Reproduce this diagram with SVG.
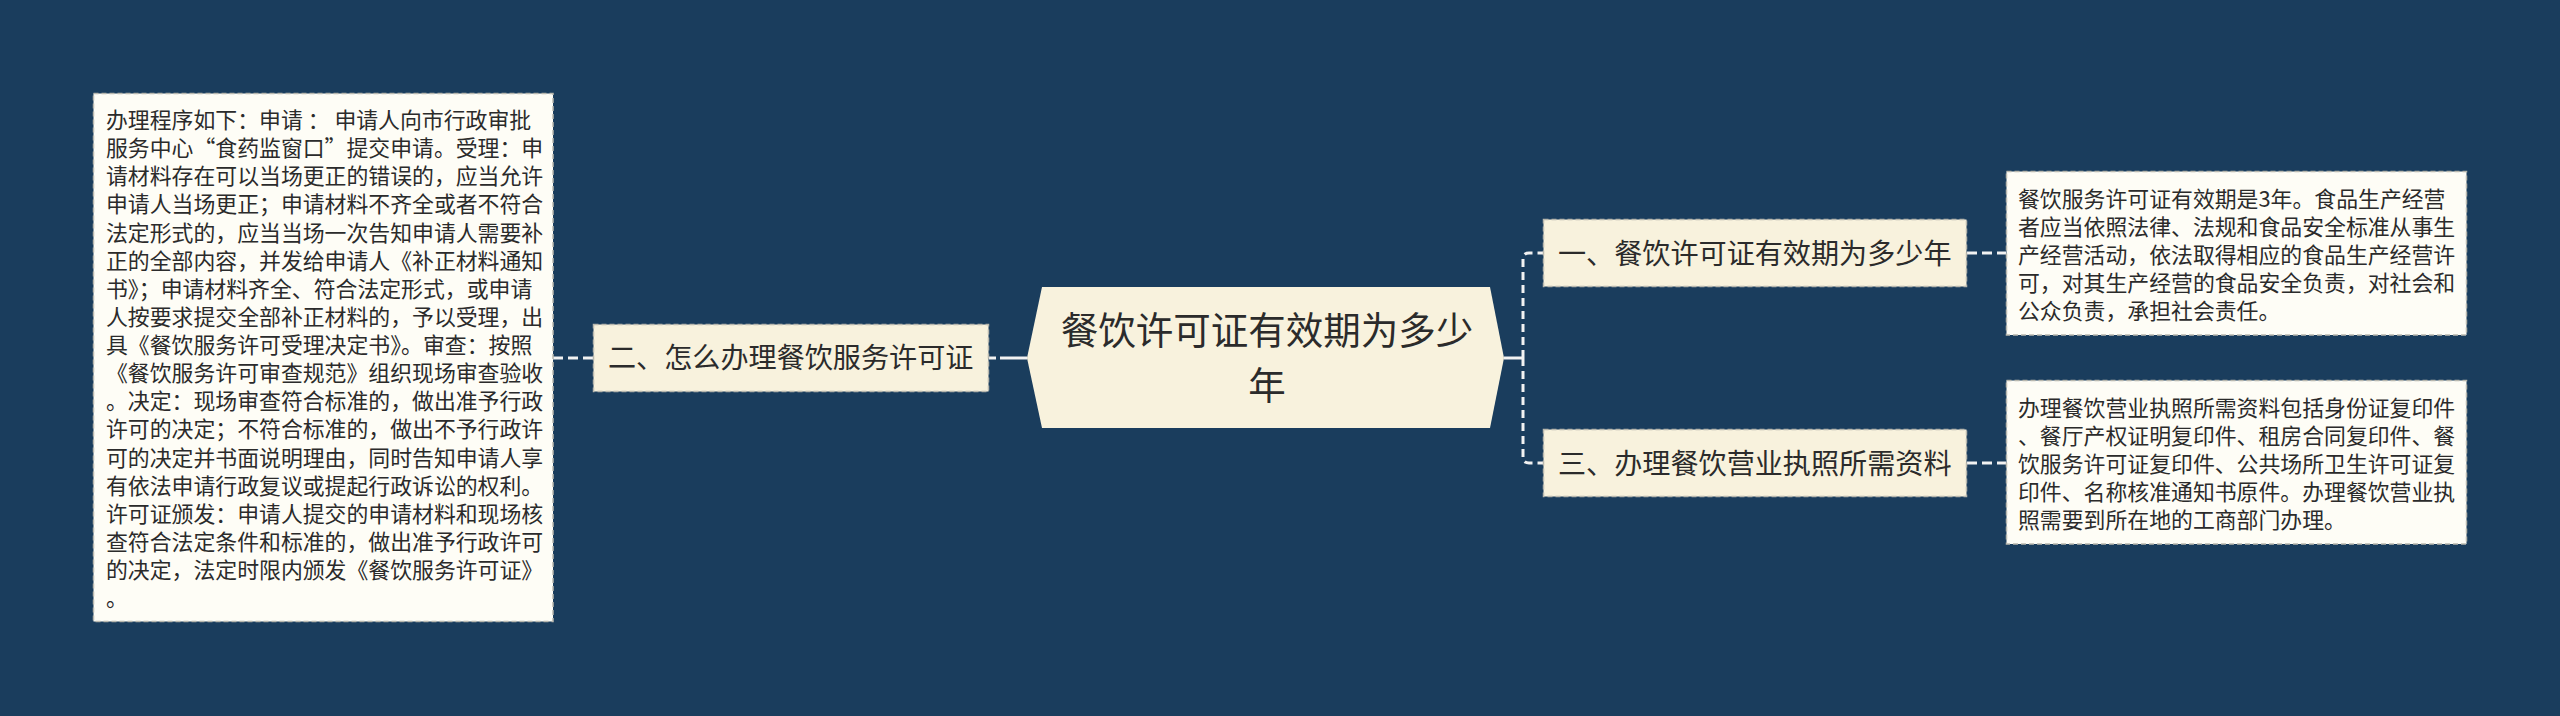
<svg xmlns="http://www.w3.org/2000/svg" width="2560" height="716" viewBox="0 0 2560 716">
<style>
.bg{fill:#1a3d5d}
.topic{fill:#f8f2dd;stroke:#b9b8ae;stroke-width:1.5;stroke-dasharray:5 3}
.detail{fill:#fefdf6;stroke:#b9b8ae;stroke-width:1.5;stroke-dasharray:5 3}
.hex{fill:#f8f2dd}
text{font-family:"Noto Sans CJK SC","Microsoft YaHei",sans-serif;fill:#2b2b2b}
.t14{font-size:21.875px}
.t18{font-size:28.125px}
.t24{font-size:37.5px}
.dash{fill:none;stroke:#f2f2f2;stroke-width:3;stroke-dasharray:10 5}
.solid{fill:none;stroke:#f2f2f2;stroke-width:3}
</style>
<rect class="bg" x="0" y="0" width="2560" height="716"/>
<g id="connectors">
<path class="solid" d="M1504,358 H1523"/>
<path class="dash" d="M1523,358 V259 Q1523,253 1529,253 H1543" style="stroke-dasharray:8 5"/>
<path class="dash" d="M1523,358 V457 Q1523,463 1529,463 H1543" style="stroke-dasharray:8 5"/>
<path class="solid" d="M1027,358 H1000"/>
<path class="dash" d="M1000,358 H989" style="stroke-dasharray:0 4 7 0"/>
<path class="dash" d="M593,358 H553"/>
<path class="dash" d="M1967,253 H2006"/>
<path class="dash" d="M1967,463 H2006"/>
</g>
<g id="center">
<polygon class="hex" points="1027,358 1042,287 1490,287 1504,358 1490,428 1042,428"/>
<text class="t24" text-anchor="middle"><tspan x="1267" y="344">餐饮许可证有效期为多少</tspan><tspan x="1267" y="399">年</tspan></text>
</g>
<g id="node-2">
<rect class="topic" x="593.5" y="324.5" width="395" height="67"/>
<text class="t18" x="608" y="367.5">二、怎么办理餐饮服务许可证</text>
</g>
<g id="detail-2">
<rect class="detail" x="93.5" y="93.5" width="459.5" height="528"/>
<text class="t14"><tspan x="106" y="128">办理程序如下：申请 ： 申请人向市行政审批</tspan><tspan x="106" dy="28.125">服务中心“食药监窗口”提交申请。受理：申</tspan><tspan x="106" dy="28.125">请材料存在可以当场更正的错误的，应当允许</tspan><tspan x="106" dy="28.125">申请人当场更正；申请材料不齐全或者不符合</tspan><tspan x="106" dy="28.125">法定形式的，应当当场一次告知申请人需要补</tspan><tspan x="106" dy="28.125">正的全部内容，并发给申请人《补正材料通知</tspan><tspan x="106" dy="28.125">书》；申请材料齐全、符合法定形式，或申请</tspan><tspan x="106" dy="28.125">人按要求提交全部补正材料的，予以受理，出</tspan><tspan x="106" dy="28.125">具《餐饮服务许可受理决定书》。审查：按照</tspan><tspan x="106" dy="28.125">《餐饮服务许可审查规范》组织现场审查验收</tspan><tspan x="106" dy="28.125">。决定：现场审查符合标准的，做出准予行政</tspan><tspan x="106" dy="28.125">许可的决定；不符合标准的，做出不予行政许</tspan><tspan x="106" dy="28.125">可的决定并书面说明理由，同时告知申请人享</tspan><tspan x="106" dy="28.125">有依法申请行政复议或提起行政诉讼的权利。</tspan><tspan x="106" dy="28.125">许可证颁发：申请人提交的申请材料和现场核</tspan><tspan x="106" dy="28.125">查符合法定条件和标准的，做出准予行政许可</tspan><tspan x="106" dy="28.125">的决定，法定时限内颁发《餐饮服务许可证》</tspan><tspan x="106" dy="28.125">。</tspan></text>
</g>
<g id="node-1">
<rect class="topic" x="1543.5" y="219.5" width="423" height="67"/>
<text class="t18" x="1558" y="264">一、餐饮许可证有效期为多少年</text>
</g>
<g id="detail-1">
<rect class="detail" x="2006.5" y="171.5" width="460" height="163.5"/>
<text class="t14"><tspan x="2018" y="206.5">餐饮服务许可证有效期是3年。食品生产经营</tspan><tspan x="2018" dy="28.125">者应当依照法律、法规和食品安全标准从事生</tspan><tspan x="2018" dy="28.125">产经营活动，依法取得相应的食品生产经营许</tspan><tspan x="2018" dy="28.125">可，对其生产经营的食品安全负责，对社会和</tspan><tspan x="2018" dy="28.125">公众负责，承担社会责任。</tspan></text>
</g>
<g id="node-3">
<rect class="topic" x="1543.5" y="429.5" width="423" height="67"/>
<text class="t18" x="1558" y="474">三、办理餐饮营业执照所需资料</text>
</g>
<g id="detail-3">
<rect class="detail" x="2006.5" y="380.5" width="460" height="163.5"/>
<text class="t14"><tspan x="2018" y="415.5">办理餐饮营业执照所需资料包括身份证复印件</tspan><tspan x="2018" dy="28.125">、餐厅产权证明复印件、租房合同复印件、餐</tspan><tspan x="2018" dy="28.125">饮服务许可证复印件、公共场所卫生许可证复</tspan><tspan x="2018" dy="28.125">印件、名称核准通知书原件。办理餐饮营业执</tspan><tspan x="2018" dy="28.125">照需要到所在地的工商部门办理。</tspan></text>
</g>
</svg>
